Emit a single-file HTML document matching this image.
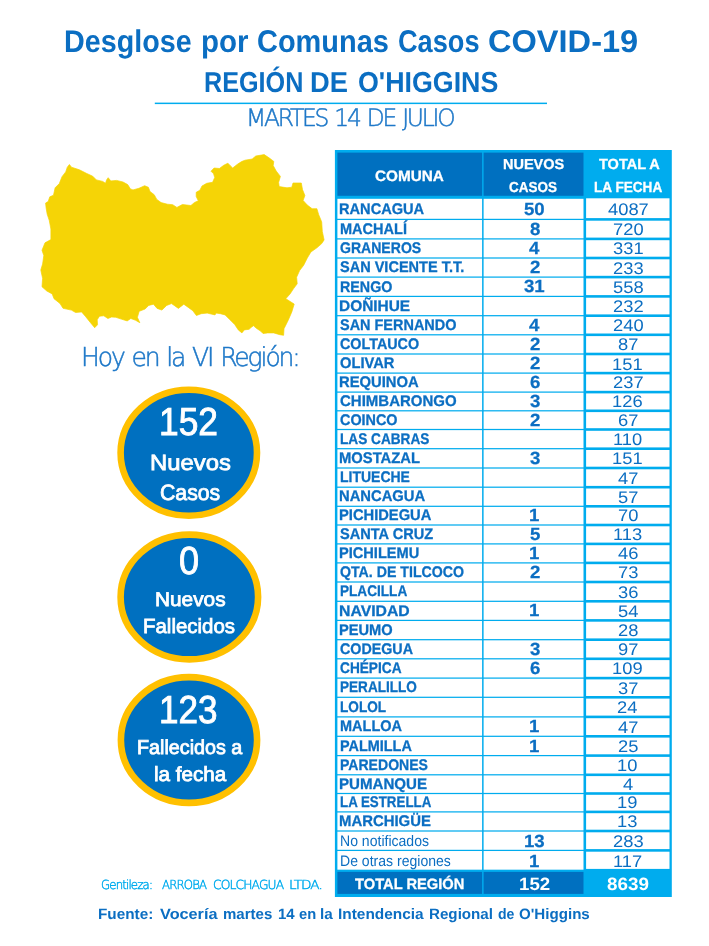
<!DOCTYPE html>
<html lang="es"><head><meta charset="utf-8"><title>Desglose por Comunas Casos COVID-19 - Región de O'Higgins</title>
<style>
html,body{margin:0;padding:0;background:#fff;}
body{width:709px;height:946px;position:relative;overflow:hidden;font-family:"Liberation Sans", sans-serif;text-rendering:geometricPrecision;}
.t{position:absolute;white-space:pre;line-height:0;transform-origin:0 0;display:block;font-weight:700;color:#0B6EC2;}
.shape{position:absolute;left:0;top:0;}
.tbl div{position:absolute;}
</style></head><body>
<svg class="shape" width="709" height="946" viewBox="0 0 709 946">
<polygon fill="#F5D406" stroke="#F5D406" stroke-width="0.7" stroke-linejoin="round" points="42.0,250.2 45.0,242.8 50.9,239.6 50.9,229.1 49.3,220.6 47.2,214.2 46.1,207.9 45.6,203.1 48.2,201.5 49.8,196.8 53.5,195.2 55.1,187.8 59.3,183.6 62.0,176.7 65.7,171.9 67.3,167.2 69.4,164.5 71.5,167.2 79.4,169.8 86.8,173.5 92.7,176.2 96.4,179.9 102.7,181.4 105.5,183.3 106.6,179.9 108.2,177.7 110.8,180.9 116.6,180.4 123,182 127.7,184.6 130.4,188.9 133,189.9 138.9,188.3 144.7,185.7 148.4,187.3 150,191.5 154.2,194.7 156.8,199.4 161.1,202.6 167.4,204.2 172.7,204.7 176.9,207.4 180,205.8 182.4,204.5 190.9,205.5 194.6,202.4 198.3,200.8 196.2,196.5 196.2,192.3 199.9,190.2 202,186 206.7,183.3 212.6,182.3 214.7,177.5 213.6,173.8 211,171.2 214.1,168 219.4,168.5 223.7,165.3 227.9,163.2 230.5,165.9 232.7,168 237.4,164.3 241.6,161.6 245,160.2 252.2,159 255.8,156 264.2,154.6 269,157.8 273.8,161.4 273.2,165.6 276.2,171 280.4,176.4 278.6,182.4 279.2,186.6 287,187.8 291.8,187.2 293,183 301.3,183 302.5,189.6 304.9,195.6 303.1,200.4 307.3,205.1 312.1,208.7 316.9,208.7 318.7,214.7 321.7,221.9 322.3,231.5 324.1,239.9 321.7,243.6 316.9,247.8 310.9,252 307.3,258 303.7,265.2 299.6,270.6 296.6,277.2 297.2,283.8 293.6,288.6 290,294 285.8,298.7 294.2,304.1 291.8,311.9 288.2,320.3 284,328.7 283.6,335.3 279.8,334.7 273.8,332.9 267.8,332.9 263,333.5 260.6,331.1 257,328.7 253.4,325.7 251,327.5 249.1,329.3 244.3,329.9 241.9,332.9 238.3,329.9 234.7,324.5 229.9,319.7 225.1,314.9 220.4,313.7 216.2,313.1 215,314.9 207.2,313.1 201.2,313.7 196.4,315.5 192.8,310.7 188,307.2 183.8,304.2 178.4,308.4 174.2,305.4 171.5,303.6 166.7,305.4 161.9,310.1 157.1,308.4 153.5,304.2 148.7,305.4 145.1,309 139.2,311.3 137.4,317.3 139.8,322.7 135.6,320.3 130.8,318.5 127.2,320.9 121.2,319.1 115.8,317.3 111.6,317.0 107.9,318.5 103.8,315.8 99.5,316.2 97.2,319.7 97.5,324.8 94.7,327.7 90.5,322.7 85.7,316.7 81.6,311.9 75.6,312.5 71.4,310.1 63,308.3 60,303.5 54,298.7 52.2,293.9 46.8,291 42,286.8 42.6,278.4 40.8,270 42.6,264 43.8,255.6"/>
<rect x="154.8" y="102.6" width="392.2" height="1.5" fill="#00ACEE"/>
<ellipse cx="188.8" cy="452.75" rx="68.2" ry="63.05" fill="#0070C0" stroke="#FFC000" stroke-width="6.6"/>
<ellipse cx="189.35" cy="597.0" rx="68.75" ry="62.4" fill="#0070C0" stroke="#FFC000" stroke-width="6.6"/>
<ellipse cx="189.0" cy="740.0" rx="68.1" ry="62.9" fill="#0070C0" stroke="#FFC000" stroke-width="6.6"/>
<rect x="334.90" y="150.00" width="336.90" height="747.00" fill="#00ACEE"/>
<rect x="337.40" y="152.60" width="144.70" height="43.20" fill="#0070C0"/>
<rect x="483.60" y="152.60" width="99.90" height="43.20" fill="#0070C0"/>
<rect x="337.40" y="198.80" width="144.70" height="19.98" fill="#fff"/>
<rect x="483.60" y="198.80" width="99.90" height="19.98" fill="#fff"/>
<rect x="586.10" y="198.30" width="83.40" height="19.80" fill="#fff"/>
<rect x="337.40" y="220.02" width="144.70" height="18.26" fill="#fff"/>
<rect x="483.60" y="220.02" width="99.90" height="18.26" fill="#fff"/>
<rect x="586.10" y="220.70" width="83.40" height="16.90" fill="#fff"/>
<rect x="337.40" y="239.52" width="144.70" height="17.86" fill="#fff"/>
<rect x="483.60" y="239.52" width="99.90" height="17.86" fill="#fff"/>
<rect x="586.10" y="240.20" width="83.40" height="16.50" fill="#fff"/>
<rect x="337.40" y="258.62" width="144.70" height="17.86" fill="#fff"/>
<rect x="483.60" y="258.62" width="99.90" height="17.86" fill="#fff"/>
<rect x="586.10" y="259.30" width="83.40" height="16.50" fill="#fff"/>
<rect x="337.40" y="277.72" width="144.70" height="18.06" fill="#fff"/>
<rect x="483.60" y="277.72" width="99.90" height="18.06" fill="#fff"/>
<rect x="586.10" y="278.40" width="83.40" height="16.70" fill="#fff"/>
<rect x="337.40" y="297.02" width="144.70" height="18.06" fill="#fff"/>
<rect x="483.60" y="297.02" width="99.90" height="18.06" fill="#fff"/>
<rect x="586.10" y="297.70" width="83.40" height="16.70" fill="#fff"/>
<rect x="337.40" y="316.32" width="144.70" height="17.86" fill="#fff"/>
<rect x="483.60" y="316.32" width="99.90" height="17.86" fill="#fff"/>
<rect x="586.10" y="317.00" width="83.40" height="16.50" fill="#fff"/>
<rect x="337.40" y="335.42" width="144.70" height="17.96" fill="#fff"/>
<rect x="483.60" y="335.42" width="99.90" height="17.96" fill="#fff"/>
<rect x="586.10" y="336.10" width="83.40" height="16.60" fill="#fff"/>
<rect x="337.40" y="354.62" width="144.70" height="17.86" fill="#fff"/>
<rect x="483.60" y="354.62" width="99.90" height="17.86" fill="#fff"/>
<rect x="586.10" y="355.30" width="83.40" height="16.50" fill="#fff"/>
<rect x="337.40" y="373.72" width="144.70" height="17.76" fill="#fff"/>
<rect x="483.60" y="373.72" width="99.90" height="17.76" fill="#fff"/>
<rect x="586.10" y="374.40" width="83.40" height="16.40" fill="#fff"/>
<rect x="337.40" y="392.72" width="144.70" height="17.46" fill="#fff"/>
<rect x="483.60" y="392.72" width="99.90" height="17.46" fill="#fff"/>
<rect x="586.10" y="393.40" width="83.40" height="16.10" fill="#fff"/>
<rect x="337.40" y="411.42" width="144.70" height="17.46" fill="#fff"/>
<rect x="483.60" y="411.42" width="99.90" height="17.46" fill="#fff"/>
<rect x="586.10" y="412.10" width="83.40" height="16.10" fill="#fff"/>
<rect x="337.40" y="430.12" width="144.70" height="17.96" fill="#fff"/>
<rect x="483.60" y="430.12" width="99.90" height="17.96" fill="#fff"/>
<rect x="586.10" y="430.80" width="83.40" height="16.60" fill="#fff"/>
<rect x="337.40" y="449.32" width="144.70" height="18.06" fill="#fff"/>
<rect x="483.60" y="449.32" width="99.90" height="18.06" fill="#fff"/>
<rect x="586.10" y="450.00" width="83.40" height="16.70" fill="#fff"/>
<rect x="337.40" y="468.62" width="144.70" height="17.96" fill="#fff"/>
<rect x="483.60" y="468.62" width="99.90" height="17.96" fill="#fff"/>
<rect x="586.10" y="469.30" width="83.40" height="16.60" fill="#fff"/>
<rect x="337.40" y="487.82" width="144.70" height="17.86" fill="#fff"/>
<rect x="483.60" y="487.82" width="99.90" height="17.86" fill="#fff"/>
<rect x="586.10" y="488.50" width="83.40" height="16.50" fill="#fff"/>
<rect x="337.40" y="506.92" width="144.70" height="17.46" fill="#fff"/>
<rect x="483.60" y="506.92" width="99.90" height="17.46" fill="#fff"/>
<rect x="586.10" y="507.60" width="83.40" height="16.10" fill="#fff"/>
<rect x="337.40" y="525.62" width="144.70" height="17.66" fill="#fff"/>
<rect x="483.60" y="525.62" width="99.90" height="17.66" fill="#fff"/>
<rect x="586.10" y="526.30" width="83.40" height="16.30" fill="#fff"/>
<rect x="337.40" y="544.52" width="144.70" height="17.76" fill="#fff"/>
<rect x="483.60" y="544.52" width="99.90" height="17.76" fill="#fff"/>
<rect x="586.10" y="545.20" width="83.40" height="16.40" fill="#fff"/>
<rect x="337.40" y="563.52" width="144.70" height="17.86" fill="#fff"/>
<rect x="483.60" y="563.52" width="99.90" height="17.86" fill="#fff"/>
<rect x="586.10" y="564.20" width="83.40" height="16.50" fill="#fff"/>
<rect x="337.40" y="582.62" width="144.70" height="18.06" fill="#fff"/>
<rect x="483.60" y="582.62" width="99.90" height="18.06" fill="#fff"/>
<rect x="586.10" y="583.30" width="83.40" height="16.70" fill="#fff"/>
<rect x="337.40" y="601.92" width="144.70" height="17.86" fill="#fff"/>
<rect x="483.60" y="601.92" width="99.90" height="17.86" fill="#fff"/>
<rect x="586.10" y="602.60" width="83.40" height="16.50" fill="#fff"/>
<rect x="337.40" y="621.02" width="144.70" height="18.06" fill="#fff"/>
<rect x="483.60" y="621.02" width="99.90" height="18.06" fill="#fff"/>
<rect x="586.10" y="621.70" width="83.40" height="16.70" fill="#fff"/>
<rect x="337.40" y="640.32" width="144.70" height="17.86" fill="#fff"/>
<rect x="483.60" y="640.32" width="99.90" height="17.86" fill="#fff"/>
<rect x="586.10" y="641.00" width="83.40" height="16.50" fill="#fff"/>
<rect x="337.40" y="659.42" width="144.70" height="18.06" fill="#fff"/>
<rect x="483.60" y="659.42" width="99.90" height="18.06" fill="#fff"/>
<rect x="586.10" y="660.10" width="83.40" height="16.70" fill="#fff"/>
<rect x="337.40" y="678.72" width="144.70" height="17.96" fill="#fff"/>
<rect x="483.60" y="678.72" width="99.90" height="17.96" fill="#fff"/>
<rect x="586.10" y="679.40" width="83.40" height="16.60" fill="#fff"/>
<rect x="337.40" y="697.92" width="144.70" height="18.36" fill="#fff"/>
<rect x="483.60" y="697.92" width="99.90" height="18.36" fill="#fff"/>
<rect x="586.10" y="698.60" width="83.40" height="17.00" fill="#fff"/>
<rect x="337.40" y="717.52" width="144.70" height="18.16" fill="#fff"/>
<rect x="483.60" y="717.52" width="99.90" height="18.16" fill="#fff"/>
<rect x="586.10" y="718.20" width="83.40" height="16.80" fill="#fff"/>
<rect x="337.40" y="736.92" width="144.70" height="18.06" fill="#fff"/>
<rect x="483.60" y="736.92" width="99.90" height="18.06" fill="#fff"/>
<rect x="586.10" y="737.60" width="83.40" height="16.70" fill="#fff"/>
<rect x="337.40" y="756.22" width="144.70" height="17.96" fill="#fff"/>
<rect x="483.60" y="756.22" width="99.90" height="17.96" fill="#fff"/>
<rect x="586.10" y="756.90" width="83.40" height="16.60" fill="#fff"/>
<rect x="337.40" y="775.42" width="144.70" height="17.46" fill="#fff"/>
<rect x="483.60" y="775.42" width="99.90" height="17.46" fill="#fff"/>
<rect x="586.10" y="776.10" width="83.40" height="16.10" fill="#fff"/>
<rect x="337.40" y="794.12" width="144.70" height="17.16" fill="#fff"/>
<rect x="483.60" y="794.12" width="99.90" height="17.16" fill="#fff"/>
<rect x="586.10" y="794.80" width="83.40" height="15.80" fill="#fff"/>
<rect x="337.40" y="812.52" width="144.70" height="17.86" fill="#fff"/>
<rect x="483.60" y="812.52" width="99.90" height="17.86" fill="#fff"/>
<rect x="586.10" y="813.20" width="83.40" height="16.50" fill="#fff"/>
<rect x="337.40" y="831.62" width="144.70" height="18.16" fill="#fff"/>
<rect x="483.60" y="831.62" width="99.90" height="18.16" fill="#fff"/>
<rect x="586.10" y="832.30" width="83.40" height="16.80" fill="#fff"/>
<rect x="337.40" y="851.02" width="144.70" height="18.66" fill="#fff"/>
<rect x="483.60" y="851.02" width="99.90" height="18.66" fill="#fff"/>
<rect x="586.10" y="851.70" width="83.40" height="17.20" fill="#fff"/>
<rect x="337.40" y="871.90" width="144.70" height="22.00" fill="#0070C0"/>
<rect x="483.60" y="871.90" width="99.90" height="22.00" fill="#0070C0"/>
</svg>
<span class="t" style="left:64.41px;top:42px;font-size:31.43px;transform:scaleX(0.9133);">Desglose</span>
<span class="t" style="left:201.26px;top:42px;font-size:31.43px;transform:scaleX(0.9375);">por</span>
<span class="t" style="left:257.0px;top:42px;font-size:31.43px;transform:scaleX(0.9211);">Comunas</span>
<span class="t" style="left:398.45px;top:42px;font-size:31.43px;transform:scaleX(0.8647);">Casos</span>
<span class="t" style="left:487.98px;top:42px;font-size:31.43px;transform:scaleX(1.0365);">COVID-19</span>
<span class="t" style="left:204.33px;top:83px;font-size:28.87px;transform:scaleX(0.8724);">REGIÓN</span>
<span class="t" style="left:310.09px;top:83px;font-size:28.87px;transform:scaleX(0.946);">DE</span>
<span class="t" style="left:358.06px;top:83px;font-size:28.87px;transform:scaleX(0.9283);">O'HIGGINS</span>
<span class="t" style="left:245.54px;top:118px;font-size:23.97px;font-family:'DejaVu Sans Light', 'DejaVu Sans', 'Liberation Sans', sans-serif;font-weight:200;color:#1E78C8;-webkit-text-stroke:0.5px #1E78C8;letter-spacing:-2.3px;word-spacing:2.0px;transform:scaleX(0.976);">MARTES 14 DE JULIO</span>
<span class="t" style="left:81.2px;top:358px;font-size:26.14px;font-family:'DejaVu Sans Light', 'DejaVu Sans', 'Liberation Sans', sans-serif;font-weight:200;color:#1E78C8;-webkit-text-stroke:0.5px #1E78C8;letter-spacing:-2.2px;word-spacing:2.0px;transform:scaleX(0.9585);">Hoy en la VI Región:</span>
<span class="t" style="left:159.4px;top:423px;font-size:39.11px;font-weight:400;color:#fff;-webkit-text-stroke:0.9px #fff;transform:scaleX(0.9029);">152</span>
<span class="t" style="left:149.78px;top:463px;font-size:22.04px;font-weight:400;color:#fff;-webkit-text-stroke:0.8px #fff;transform:scaleX(1.0824);">Nuevos</span>
<span class="t" style="left:160.23px;top:493px;font-size:22.04px;font-weight:400;color:#fff;-webkit-text-stroke:0.8px #fff;transform:scaleX(0.9636);">Casos</span>
<span class="t" style="left:179.29px;top:562px;font-size:39.11px;font-weight:400;color:#fff;-webkit-text-stroke:0.9px #fff;transform:scaleX(0.9233);">0</span>
<span class="t" style="left:154.64px;top:600px;font-size:19.91px;font-weight:400;color:#fff;-webkit-text-stroke:0.8px #fff;transform:scaleX(1.0463);">Nuevos</span>
<span class="t" style="left:143.39px;top:627px;font-size:20.34px;font-weight:400;color:#fff;-webkit-text-stroke:0.8px #fff;transform:scaleX(1.0049);">Fallecidos</span>
<span class="t" style="left:159.21px;top:711px;font-size:39.11px;font-weight:400;color:#fff;-webkit-text-stroke:0.9px #fff;transform:scaleX(0.8964);">123</span>
<span class="t" style="left:137.32px;top:748px;font-size:20.05px;font-weight:400;color:#fff;-webkit-text-stroke:0.8px #fff;transform:scaleX(0.9855);">Fallecidos a</span>
<span class="t" style="left:154.09px;top:775px;font-size:20.34px;font-weight:400;color:#fff;-webkit-text-stroke:0.8px #fff;transform:scaleX(1.0142);">la fecha</span>
<span class="t" style="left:375.34px;top:177px;font-size:15.08px;color:#fff;-webkit-text-stroke:0.3px #fff;transform:scaleX(1.0153);">COMUNA</span>
<span class="t" style="left:502.55px;top:165px;font-size:14.51px;color:#fff;-webkit-text-stroke:0.3px #fff;transform:scaleX(0.9988);">NUEVOS</span>
<span class="t" style="left:509.37px;top:188px;font-size:14.51px;color:#fff;-webkit-text-stroke:0.3px #fff;transform:scaleX(0.9293);">CASOS</span>
<span class="t" style="left:598.75px;top:165px;font-size:14.65px;color:#fff;-webkit-text-stroke:0.3px #fff;transform:scaleX(0.9918);">TOTAL A</span>
<span class="t" style="left:593.8px;top:188px;font-size:14.65px;color:#fff;-webkit-text-stroke:0.3px #fff;transform:scaleX(0.9284);">LA FECHA</span>
<span class="t" style="left:101.07px;top:885px;font-size:12.53px;font-family:'DejaVu Sans Light', 'DejaVu Sans', 'Liberation Sans', sans-serif;font-weight:200;color:#00ACEE;-webkit-text-stroke:0.45px #00ACEE;letter-spacing:-0.9px;transform:scaleX(0.939);">Gentileza:</span>
<span class="t" style="left:162.03px;top:885px;font-size:12.53px;font-family:'DejaVu Sans Light', 'DejaVu Sans', 'Liberation Sans', sans-serif;font-weight:200;color:#00ACEE;-webkit-text-stroke:0.45px #00ACEE;letter-spacing:-0.9px;transform:scaleX(0.9374);">ARROBA</span>
<span class="t" style="left:213.14px;top:885px;font-size:12.53px;font-family:'DejaVu Sans Light', 'DejaVu Sans', 'Liberation Sans', sans-serif;font-weight:200;color:#00ACEE;-webkit-text-stroke:0.45px #00ACEE;letter-spacing:-0.9px;transform:scaleX(0.9838);">COLCHAGUA</span>
<span class="t" style="left:289.41px;top:885px;font-size:12.53px;font-family:'DejaVu Sans Light', 'DejaVu Sans', 'Liberation Sans', sans-serif;font-weight:200;color:#00ACEE;-webkit-text-stroke:0.45px #00ACEE;letter-spacing:-0.9px;transform:scaleX(1.0888);">LTDA.</span>
<span class="t" style="left:97.59px;top:915px;font-size:15.08px;transform:scaleX(1.0148);">Fuente:</span>
<span class="t" style="left:159.89px;top:915px;font-size:15.08px;transform:scaleX(1.077);">Vocería</span>
<span class="t" style="left:222.7px;top:915px;font-size:15.08px;transform:scaleX(0.9965);">martes</span>
<span class="t" style="left:277.71px;top:915px;font-size:15.08px;transform:scaleX(0.994);">14</span>
<span class="t" style="left:299.11px;top:915px;font-size:15.08px;transform:scaleX(0.9754);">en</span>
<span class="t" style="left:319.59px;top:915px;font-size:15.08px;transform:scaleX(1.0093);">la</span>
<span class="t" style="left:337.98px;top:915px;font-size:15.08px;transform:scaleX(1.0216);">Intendencia</span>
<span class="t" style="left:429.39px;top:915px;font-size:15.08px;transform:scaleX(1.0052);">Regional</span>
<span class="t" style="left:497.94px;top:915px;font-size:15.08px;transform:scaleX(0.932);">de</span>
<span class="t" style="left:518.8px;top:915px;font-size:15.08px;transform:scaleX(1.0026);">O'Higgins</span>
<span class="t" style="left:354.75px;top:885px;font-size:14.93px;color:#fff;-webkit-text-stroke:0.3px #fff;transform:scaleX(0.9845);">TOTAL REGIÓN</span>
<span class="t" style="left:339.49px;top:210px;font-size:15.4px;-webkit-text-stroke:0.3px #0B6EC2;transform:scaleX(0.9486);">RANCAGUA</span>
<span class="t" style="left:524.42px;top:209px;font-size:17.6px;-webkit-text-stroke:0.25px #0B6EC2;transform:scaleX(1.06);">50</span>
<span class="t" style="left:607.78px;top:210px;font-size:16.9px;font-weight:400;transform:scaleX(1.085);">4087</span>
<span class="t" style="left:339.5px;top:230px;font-size:15.4px;-webkit-text-stroke:0.3px #0B6EC2;transform:scaleX(0.9436);">MACHALÍ</span>
<span class="t" style="left:529.5px;top:229px;font-size:17.6px;-webkit-text-stroke:0.25px #0B6EC2;transform:scaleX(1.06);">8</span>
<span class="t" style="left:612.5px;top:230px;font-size:16.9px;font-weight:400;transform:scaleX(1.085);">720</span>
<span class="t" style="left:339.89px;top:249px;font-size:15.4px;-webkit-text-stroke:0.3px #0B6EC2;transform:scaleX(0.913);">GRANEROS</span>
<span class="t" style="left:529.45px;top:248px;font-size:17.6px;-webkit-text-stroke:0.25px #0B6EC2;transform:scaleX(1.06);">4</span>
<span class="t" style="left:612.72px;top:249px;font-size:16.9px;font-weight:400;transform:scaleX(1.085);">331</span>
<span class="t" style="left:340.06px;top:268px;font-size:15.4px;-webkit-text-stroke:0.3px #0B6EC2;transform:scaleX(0.9432);">SAN VICENTE T.T.</span>
<span class="t" style="left:529.55px;top:267px;font-size:17.6px;-webkit-text-stroke:0.25px #0B6EC2;transform:scaleX(1.06);">2</span>
<span class="t" style="left:612.55px;top:269px;font-size:16.9px;font-weight:400;transform:scaleX(1.085);">233</span>
<span class="t" style="left:339.51px;top:288px;font-size:15.4px;-webkit-text-stroke:0.3px #0B6EC2;transform:scaleX(0.9282);">RENGO</span>
<span class="t" style="left:524.37px;top:286px;font-size:17.6px;-webkit-text-stroke:0.25px #0B6EC2;transform:scaleX(1.06);">31</span>
<span class="t" style="left:612.66px;top:288px;font-size:16.9px;font-weight:400;transform:scaleX(1.085);">558</span>
<span class="t" style="left:339.45px;top:307px;font-size:15.4px;-webkit-text-stroke:0.3px #0B6EC2;transform:scaleX(1.0027);">DOÑIHUE</span>
<span class="t" style="left:612.61px;top:307px;font-size:16.9px;font-weight:400;transform:scaleX(1.085);">232</span>
<span class="t" style="left:340.07px;top:326px;font-size:15.4px;-webkit-text-stroke:0.3px #0B6EC2;transform:scaleX(0.9391);">SAN FERNANDO</span>
<span class="t" style="left:529.45px;top:325px;font-size:17.6px;-webkit-text-stroke:0.25px #0B6EC2;transform:scaleX(1.06);">4</span>
<span class="t" style="left:612.5px;top:326px;font-size:16.9px;font-weight:400;transform:scaleX(1.085);">240</span>
<span class="t" style="left:339.88px;top:345px;font-size:15.4px;-webkit-text-stroke:0.3px #0B6EC2;transform:scaleX(0.9317);">COLTAUCO</span>
<span class="t" style="left:529.55px;top:344px;font-size:17.6px;-webkit-text-stroke:0.25px #0B6EC2;transform:scaleX(1.06);">2</span>
<span class="t" style="left:617.76px;top:345px;font-size:16.9px;font-weight:400;transform:scaleX(1.085);">87</span>
<span class="t" style="left:339.87px;top:364px;font-size:15.4px;-webkit-text-stroke:0.3px #0B6EC2;transform:scaleX(0.9558);">OLIVAR</span>
<span class="t" style="left:529.55px;top:363px;font-size:17.6px;-webkit-text-stroke:0.25px #0B6EC2;transform:scaleX(1.06);">2</span>
<span class="t" style="left:612.39px;top:365px;font-size:16.9px;font-weight:400;transform:scaleX(1.085);">151</span>
<span class="t" style="left:339.48px;top:383px;font-size:15.4px;-webkit-text-stroke:0.3px #0B6EC2;transform:scaleX(0.9606);">REQUINOA</span>
<span class="t" style="left:529.5px;top:382px;font-size:17.6px;-webkit-text-stroke:0.25px #0B6EC2;transform:scaleX(1.06);">6</span>
<span class="t" style="left:612.61px;top:383px;font-size:16.9px;font-weight:400;transform:scaleX(1.085);">237</span>
<span class="t" style="left:339.86px;top:402px;font-size:15.4px;-webkit-text-stroke:0.3px #0B6EC2;transform:scaleX(0.9745);">CHIMBARONGO</span>
<span class="t" style="left:529.61px;top:401px;font-size:17.6px;-webkit-text-stroke:0.25px #0B6EC2;transform:scaleX(1.06);">3</span>
<span class="t" style="left:612.34px;top:402px;font-size:16.9px;font-weight:400;transform:scaleX(1.085);">126</span>
<span class="t" style="left:339.88px;top:421px;font-size:15.4px;-webkit-text-stroke:0.3px #0B6EC2;transform:scaleX(0.9341);">COINCO</span>
<span class="t" style="left:529.55px;top:420px;font-size:17.6px;-webkit-text-stroke:0.25px #0B6EC2;transform:scaleX(1.06);">2</span>
<span class="t" style="left:617.7px;top:421px;font-size:16.9px;font-weight:400;transform:scaleX(1.085);">67</span>
<span class="t" style="left:339.55px;top:440px;font-size:15.4px;-webkit-text-stroke:0.3px #0B6EC2;transform:scaleX(0.8862);">LAS CABRAS</span>
<span class="t" style="left:612.96px;top:440px;font-size:16.9px;font-weight:400;transform:scaleX(1.085);">110</span>
<span class="t" style="left:339.48px;top:459px;font-size:15.4px;-webkit-text-stroke:0.3px #0B6EC2;transform:scaleX(0.9609);">MOSTAZAL</span>
<span class="t" style="left:529.61px;top:458px;font-size:17.6px;-webkit-text-stroke:0.25px #0B6EC2;transform:scaleX(1.06);">3</span>
<span class="t" style="left:612.39px;top:459px;font-size:16.9px;font-weight:400;transform:scaleX(1.085);">151</span>
<span class="t" style="left:339.53px;top:478px;font-size:15.4px;-webkit-text-stroke:0.3px #0B6EC2;transform:scaleX(0.9089);">LITUECHE</span>
<span class="t" style="left:617.97px;top:479px;font-size:16.9px;font-weight:400;transform:scaleX(1.085);">47</span>
<span class="t" style="left:339.49px;top:497px;font-size:15.4px;-webkit-text-stroke:0.3px #0B6EC2;transform:scaleX(0.9588);">NANCAGUA</span>
<span class="t" style="left:617.81px;top:498px;font-size:16.9px;font-weight:400;transform:scaleX(1.085);">57</span>
<span class="t" style="left:339.49px;top:516px;font-size:15.4px;-webkit-text-stroke:0.3px #0B6EC2;transform:scaleX(0.9559);">PICHIDEGUA</span>
<span class="t" style="left:529.18px;top:515px;font-size:17.6px;-webkit-text-stroke:0.25px #0B6EC2;transform:scaleX(1.06);">1</span>
<span class="t" style="left:617.59px;top:516px;font-size:16.9px;font-weight:400;transform:scaleX(1.085);">70</span>
<span class="t" style="left:340.06px;top:535px;font-size:15.4px;-webkit-text-stroke:0.3px #0B6EC2;transform:scaleX(0.9476);">SANTA CRUZ</span>
<span class="t" style="left:529.5px;top:534px;font-size:17.6px;-webkit-text-stroke:0.25px #0B6EC2;transform:scaleX(1.06);">5</span>
<span class="t" style="left:613.01px;top:535px;font-size:16.9px;font-weight:400;transform:scaleX(1.085);">113</span>
<span class="t" style="left:339.49px;top:554px;font-size:15.4px;-webkit-text-stroke:0.3px #0B6EC2;transform:scaleX(0.9478);">PICHILEMU</span>
<span class="t" style="left:529.18px;top:553px;font-size:17.6px;-webkit-text-stroke:0.25px #0B6EC2;transform:scaleX(1.06);">1</span>
<span class="t" style="left:617.92px;top:554px;font-size:16.9px;font-weight:400;transform:scaleX(1.085);">46</span>
<span class="t" style="left:339.89px;top:573px;font-size:15.4px;-webkit-text-stroke:0.3px #0B6EC2;transform:scaleX(0.9199);">QTA. DE TILCOCO</span>
<span class="t" style="left:529.55px;top:572px;font-size:17.6px;-webkit-text-stroke:0.25px #0B6EC2;transform:scaleX(1.06);">2</span>
<span class="t" style="left:617.65px;top:573px;font-size:16.9px;font-weight:400;transform:scaleX(1.085);">73</span>
<span class="t" style="left:339.55px;top:592px;font-size:15.4px;-webkit-text-stroke:0.3px #0B6EC2;transform:scaleX(0.8831);">PLACILLA</span>
<span class="t" style="left:617.76px;top:593px;font-size:16.9px;font-weight:400;transform:scaleX(1.085);">36</span>
<span class="t" style="left:339.43px;top:612px;font-size:15.4px;-webkit-text-stroke:0.3px #0B6EC2;transform:scaleX(1.0257);">NAVIDAD</span>
<span class="t" style="left:529.18px;top:610px;font-size:17.6px;-webkit-text-stroke:0.25px #0B6EC2;transform:scaleX(1.06);">1</span>
<span class="t" style="left:617.59px;top:612px;font-size:16.9px;font-weight:400;transform:scaleX(1.085);">54</span>
<span class="t" style="left:339.49px;top:631px;font-size:15.4px;-webkit-text-stroke:0.3px #0B6EC2;transform:scaleX(0.9518);">PEUMO</span>
<span class="t" style="left:617.65px;top:631px;font-size:16.9px;font-weight:400;transform:scaleX(1.085);">28</span>
<span class="t" style="left:339.88px;top:650px;font-size:15.4px;-webkit-text-stroke:0.3px #0B6EC2;transform:scaleX(0.9276);">CODEGUA</span>
<span class="t" style="left:529.61px;top:649px;font-size:17.6px;-webkit-text-stroke:0.25px #0B6EC2;transform:scaleX(1.06);">3</span>
<span class="t" style="left:617.76px;top:650px;font-size:16.9px;font-weight:400;transform:scaleX(1.085);">97</span>
<span class="t" style="left:339.9px;top:669px;font-size:15.4px;-webkit-text-stroke:0.3px #0B6EC2;transform:scaleX(0.8886);">CHÉPICA</span>
<span class="t" style="left:529.5px;top:668px;font-size:17.6px;-webkit-text-stroke:0.25px #0B6EC2;transform:scaleX(1.06);">6</span>
<span class="t" style="left:612.39px;top:669px;font-size:16.9px;font-weight:400;transform:scaleX(1.085);">109</span>
<span class="t" style="left:339.55px;top:688px;font-size:15.4px;-webkit-text-stroke:0.3px #0B6EC2;transform:scaleX(0.882);">PERALILLO</span>
<span class="t" style="left:617.81px;top:689px;font-size:16.9px;font-weight:400;transform:scaleX(1.085);">37</span>
<span class="t" style="left:339.55px;top:708px;font-size:15.4px;-webkit-text-stroke:0.3px #0B6EC2;transform:scaleX(0.8835);">LOLOL</span>
<span class="t" style="left:617.49px;top:708px;font-size:16.9px;font-weight:400;transform:scaleX(1.085);">24</span>
<span class="t" style="left:339.5px;top:727px;font-size:15.4px;-webkit-text-stroke:0.3px #0B6EC2;transform:scaleX(0.9413);">MALLOA</span>
<span class="t" style="left:529.18px;top:726px;font-size:17.6px;-webkit-text-stroke:0.25px #0B6EC2;transform:scaleX(1.06);">1</span>
<span class="t" style="left:617.97px;top:728px;font-size:16.9px;font-weight:400;transform:scaleX(1.085);">47</span>
<span class="t" style="left:339.5px;top:747px;font-size:15.4px;-webkit-text-stroke:0.3px #0B6EC2;transform:scaleX(0.9374);">PALMILLA</span>
<span class="t" style="left:529.18px;top:746px;font-size:17.6px;-webkit-text-stroke:0.25px #0B6EC2;transform:scaleX(1.06);">1</span>
<span class="t" style="left:617.65px;top:747px;font-size:16.9px;font-weight:400;transform:scaleX(1.085);">25</span>
<span class="t" style="left:339.52px;top:766px;font-size:15.4px;-webkit-text-stroke:0.3px #0B6EC2;transform:scaleX(0.9128);">PAREDONES</span>
<span class="t" style="left:617.38px;top:766px;font-size:16.9px;font-weight:400;transform:scaleX(1.085);">10</span>
<span class="t" style="left:339.47px;top:785px;font-size:15.4px;-webkit-text-stroke:0.3px #0B6EC2;transform:scaleX(0.9807);">PUMANQUE</span>
<span class="t" style="left:622.85px;top:785px;font-size:16.9px;font-weight:400;transform:scaleX(1.085);">4</span>
<span class="t" style="left:339.56px;top:803px;font-size:15.4px;-webkit-text-stroke:0.3px #0B6EC2;transform:scaleX(0.8656);">LA ESTRELLA</span>
<span class="t" style="left:617.49px;top:803px;font-size:16.9px;font-weight:400;transform:scaleX(1.085);">19</span>
<span class="t" style="left:339.48px;top:822px;font-size:15.4px;-webkit-text-stroke:0.3px #0B6EC2;transform:scaleX(0.9674);">MARCHIGÜE</span>
<span class="t" style="left:617.43px;top:822px;font-size:16.9px;font-weight:400;transform:scaleX(1.085);">13</span>
<span class="t" style="left:339.79px;top:842px;font-size:15.2px;font-weight:400;transform:scaleX(0.925);">No notificados</span>
<span class="t" style="left:524.05px;top:841px;font-size:17.6px;-webkit-text-stroke:0.25px #0B6EC2;transform:scaleX(1.06);">13</span>
<span class="t" style="left:612.55px;top:842px;font-size:16.9px;font-weight:400;transform:scaleX(1.085);">283</span>
<span class="t" style="left:339.79px;top:862px;font-size:15.2px;font-weight:400;transform:scaleX(0.925);">De otras regiones</span>
<span class="t" style="left:529.18px;top:861px;font-size:17.6px;-webkit-text-stroke:0.25px #0B6EC2;transform:scaleX(1.06);">1</span>
<span class="t" style="left:613.07px;top:862px;font-size:16.9px;font-weight:400;transform:scaleX(1.085);">117</span>
<span class="t" style="left:519.31px;top:884px;font-size:17.8px;color:#fff;transform:scaleX(1.05);">152</span>
<span class="t" style="left:607.18px;top:884px;font-size:17.8px;color:#fff;transform:scaleX(1.06);">8639</span>
</body></html>
